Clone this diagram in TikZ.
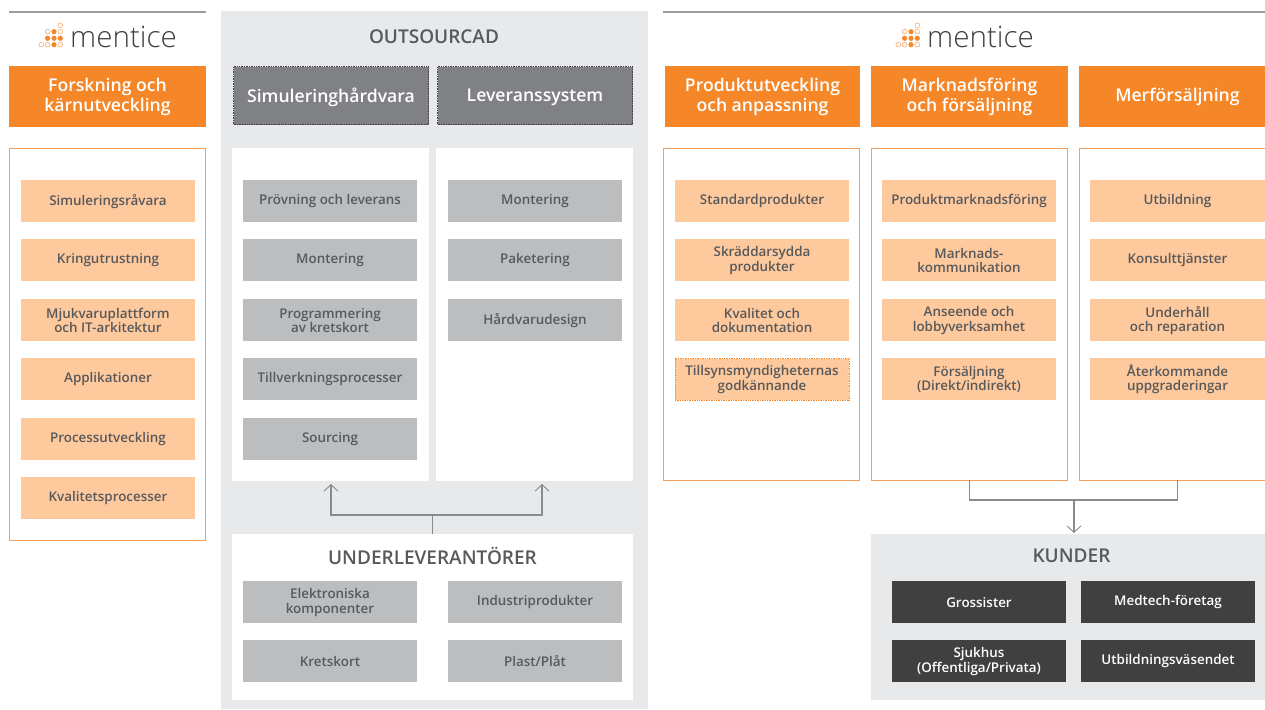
\documentclass[tikz,border=0pt]{standalone}
\usepackage{fontspec}
\setmainfont{Open Sans}
\newfontfamily\logofont{Open Sans Light}
\IfFontExistsTF{Open Sans Semibold}{\newfontfamily\semi{Open Sans Semibold}}{\newfontfamily\semi{Open Sans}[UprightFont=*-Bold]}
\usetikzlibrary{arrows.meta}
\definecolor{orangeM}{HTML}{F58729}
\definecolor{orangeL}{HTML}{FDC99D}
\definecolor{orangeB}{HTML}{F79F58}
\definecolor{panelG}{HTML}{E8E9EB}
\definecolor{itemG}{HTML}{BBBDBF}
\definecolor{headG}{HTML}{808184}
\definecolor{darkG}{HTML}{404041}
\definecolor{txtG}{HTML}{58595B}
\definecolor{lineG}{HTML}{8A8B8D}
\tikzset{
 base/.style={anchor=north west,inner sep=0pt,outer sep=0pt,align=center},
 greypanel/.style={base,fill=panelG},
 whitepanel/.style={base,fill=white},
 outlinepanel/.style={base,draw=orangeB,line width=1pt,fill=white},
 headbox/.style={base,fill=orangeM,text=white,font=\fontsize{17.6}{20}\semi},
 grayhead/.style={base,fill=headG,draw=darkG,densely dotted,line width=.7pt,text=white,font=\fontsize{17.6}{20}\semi},
 oitem/.style={base,fill=orangeL,text=txtG,font=\fontsize{13.4}{14.5}\semi},
 oitemdot/.style={oitem,draw=orangeM,densely dotted,line width=.7pt},
 gitem/.style={base,fill=itemG,text=txtG,font=\fontsize{13.4}{14.5}\semi},
 ditem/.style={base,fill=darkG,text=white,font=\fontsize{13.4}{14.5}\semi},
 lab/.style={fill=none,draw=none,minimum width=0pt,minimum height=0pt,anchor=center},
 title/.style={inner sep=0pt,text=txtG,font=\fontsize{19}{20}\semi},
 logotext/.style={inner sep=0pt,anchor=west,text=darkG,font=\fontsize{29.6}{32}\logofont},
 link/.style={draw=lineG,line width=1.1pt},
 linka/.style={link,-{Straight Barb[length=6.5pt,width=14pt,line width=.9pt]}},
 topline/.style={draw=lineG!85,line width=1.5pt},
 doff/.style={draw=orangeB!85,line width=.6pt,fill=white},
}
% name, style, x, y, w, h
\newcommand{\pn}[6]{\node[#2,minimum width=#5pt,minimum height=#6pt] (#1) at (#3,#4) {};}
% header: with text, centred as is
\newcommand{\bx}[7]{\pn{#1}{#2}{#3}{#4}{#5}{#6}\node[#2,lab] (#1t) at (#1.center) {#7};}
% grey header: text a little lower
\newcommand{\gx}[7]{\pn{#1}{#2}{#3}{#4}{#5}{#6}\node[#2,lab,yshift=-1.4pt] (#1t) at (#1.center) {#7};}
% item: text set slightly low in its box
\newcommand{\ix}[7]{\pn{#1}{#2}{#3}{#4}{#5}{#6}\node[#2,lab,yshift=-.4pt] (#1t) at (#1.center) {#7};}
\newcommand{\logomark}[2]{%
 \begin{scope}[shift={(#1,#2)}]
 \draw[doff] (19,0) circle (2.4);
 \draw[doff] (6.3,6.4) circle (2.4);
 \fill[orangeM] (12.7,6.4) circle (2.6);
 \draw[doff] (19,6.4) circle (2.4);
 \fill[orangeM] (6.3,13) circle (2.6);
 \fill[orangeM] (12.7,13) circle (2.6);
 \fill[orangeM] (19,13) circle (2.6);
 \draw[doff] (0,19.4) circle (2.4);
 \draw[doff] (6.3,19.4) circle (2.4);
 \fill[orangeM] (12.7,19.4) circle (2.6);
 \draw[doff] (19,19.4) circle (2.4);
 \end{scope}}
\begin{document}
\begin{tikzpicture}[x=1pt,y=-1pt]
\useasboundingbox (0,0) rectangle (1265,709);
\clip (0,0) rectangle (1265,709);
\fill[white] (0,0) rectangle (1265,709);
% top lines
\coordinate (tl1) at (9,12); \coordinate (tl2) at (206,12);
\coordinate (tr1) at (663,12); \coordinate (tr2) at (1265,12);
\draw[topline] (tl1) -- (tl2);
\draw[topline] (tr1) -- (tr2);
% logos
\logomark{41.3}{25.3}
\node[logotext] (logoL) at (70,37) {mentice};
\logomark{898.3}{25.3}
\node[logotext] (logoR) at (927,37) {mentice};
% left column
\bx{hF}{headbox}{9}{66}{197}{61}{Forskning och\\kärnutveckling}
\pn{pF}{outlinepanel}{9.5}{148.5}{196}{392}
\ix{f1}{oitem}{21}{180}{174}{42}{Simuleringsråvara}
\ix{f2}{oitem}{21}{239}{174}{42}{Kringutrustning}
\ix{f3}{oitem}{21}{299}{174}{42}{Mjukvaruplattform\\och IT-arkitektur}
\ix{f4}{oitem}{21}{358}{174}{42}{Applikationer}
\ix{f5}{oitem}{21}{418}{174}{42}{Processutveckling}
\ix{f6}{oitem}{21}{477}{174}{42}{Kvalitetsprocesser}
% outsourcad
\pn{pO}{greypanel}{221}{11}{427}{698}
\node[title] (tO) at (434,36.5) {OUTSOURCAD};
\gx{hS}{grayhead}{233.5}{66.5}{195}{58}{Simuleringhårdvara}
\gx{hL}{grayhead}{437.5}{66.5}{195}{58}{Leveranssystem}
\pn{wA}{whitepanel}{232}{148}{197}{333}
\pn{wB}{whitepanel}{436}{148}{197}{333}
\ix{a1}{gitem}{243}{180}{174}{42}{Prövning och leverans}
\ix{a2}{gitem}{243}{239}{174}{42}{Montering}
\ix{a3}{gitem}{243}{299}{174}{42}{Programmering\\av kretskort}
\ix{a4}{gitem}{243}{358}{174}{42}{Tillverkningsprocesser}
\ix{a5}{gitem}{243}{418}{174}{42}{Sourcing}
\ix{b1}{gitem}{448}{180}{174}{42}{Montering}
\ix{b2}{gitem}{448}{239}{174}{42}{Paketering}
\ix{b3}{gitem}{448}{299}{174}{42}{Hårdvarudesign}
\pn{wU}{whitepanel}{232}{534}{401}{166}
\node[title] (tU) at (432.5,556.2) {UNDERLEVERANTÖRER};
\ix{u1}{gitem}{243}{581}{174}{42}{Elektroniska\\komponenter}
\ix{u2}{gitem}{448}{581}{174}{42}{Industriprodukter}
\ix{u3}{gitem}{243}{640}{174}{42}{Kretskort}
\ix{u4}{gitem}{448}{640}{174}{42}{Plast/Plåt}
\coordinate (ju) at (432.5,515);
\coordinate (jl) at (331,515);
\coordinate (jr) at (542,515);
\coordinate (al) at (331,484);
\coordinate (ar) at (542,484);
\draw[link] (wU.north) -- (ju);
\draw[linka] (ju) -- (jl) -- (al);
\draw[linka] (ju) -- (jr) -- (ar);
% product
\bx{hP}{headbox}{665}{66}{195}{61}{Produktutveckling\\och anpassning}
\pn{pP}{outlinepanel}{663.5}{148.5}{196}{331.5}
\ix{p1}{oitem}{675}{180}{174}{42}{Standardprodukter}
\ix{p2}{oitem}{675}{239}{174}{42}{Skräddarsydda\\produkter}
\ix{p3}{oitem}{675}{299}{174}{42}{Kvalitet och\\dokumentation}
\ix{p4}{oitemdot}{675}{358.5}{174}{41.5}{Tillsynsmyndigheternas\\godkännande}
% marketing
\bx{hM}{headbox}{871}{66}{197}{61}{Marknadsföring\\och försäljning}
\pn{pM}{outlinepanel}{871.5}{148.5}{196}{331.5}
\ix{m1}{oitem}{882}{180}{174}{42}{Produktmarknadsföring}
\ix{m2}{oitem}{882}{239}{174}{42}{Marknads-\\kommunikation}
\ix{m3}{oitem}{882}{299}{174}{42}{Anseende och\\lobbyverksamhet}
\ix{m4}{oitem}{882}{358}{174}{42}{Försäljning\\(Direkt/indirekt)}
% upsell
\bx{hR}{headbox}{1079}{66}{197}{61}{Merförsäljning}
\pn{pR}{outlinepanel}{1079.5}{148.5}{196}{331.5}
\ix{r1}{oitem}{1090}{180}{175}{42}{Utbildning}
\ix{r2}{oitem}{1090}{239}{175}{42}{Konsulttjänster}
\ix{r3}{oitem}{1090}{299}{175}{42}{Underhåll\\och reparation}
\ix{r4}{oitem}{1090}{358}{175}{42}{Återkommande\\uppgraderingar}
% customers
\pn{pK}{greypanel}{871}{534}{394}{166}
\node[title] (tK) at (1071.5,556.2) {KUNDER};
\ix{k1}{ditem}{892}{581}{174}{42}{Grossister}
\ix{k2}{ditem}{1081}{581}{174}{42}{Medtech-företag}
\ix{k3}{ditem}{892}{640}{174}{42}{Sjukhus\\(Offentliga/Privata)}
\ix{k4}{ditem}{1081}{640}{174}{42}{Utbildningsväsendet}
\coordinate (cj1) at (969.5,500);
\coordinate (cj2) at (1177.5,500);
\coordinate (cj3) at (1074,500);
\coordinate (cT) at (1074,533);
\draw[link] (pM.south) -- (cj1) -- (cj2) -- (pR.south);
\draw[linka] (cj3) -- (cT);
\end{tikzpicture}
\end{document}
